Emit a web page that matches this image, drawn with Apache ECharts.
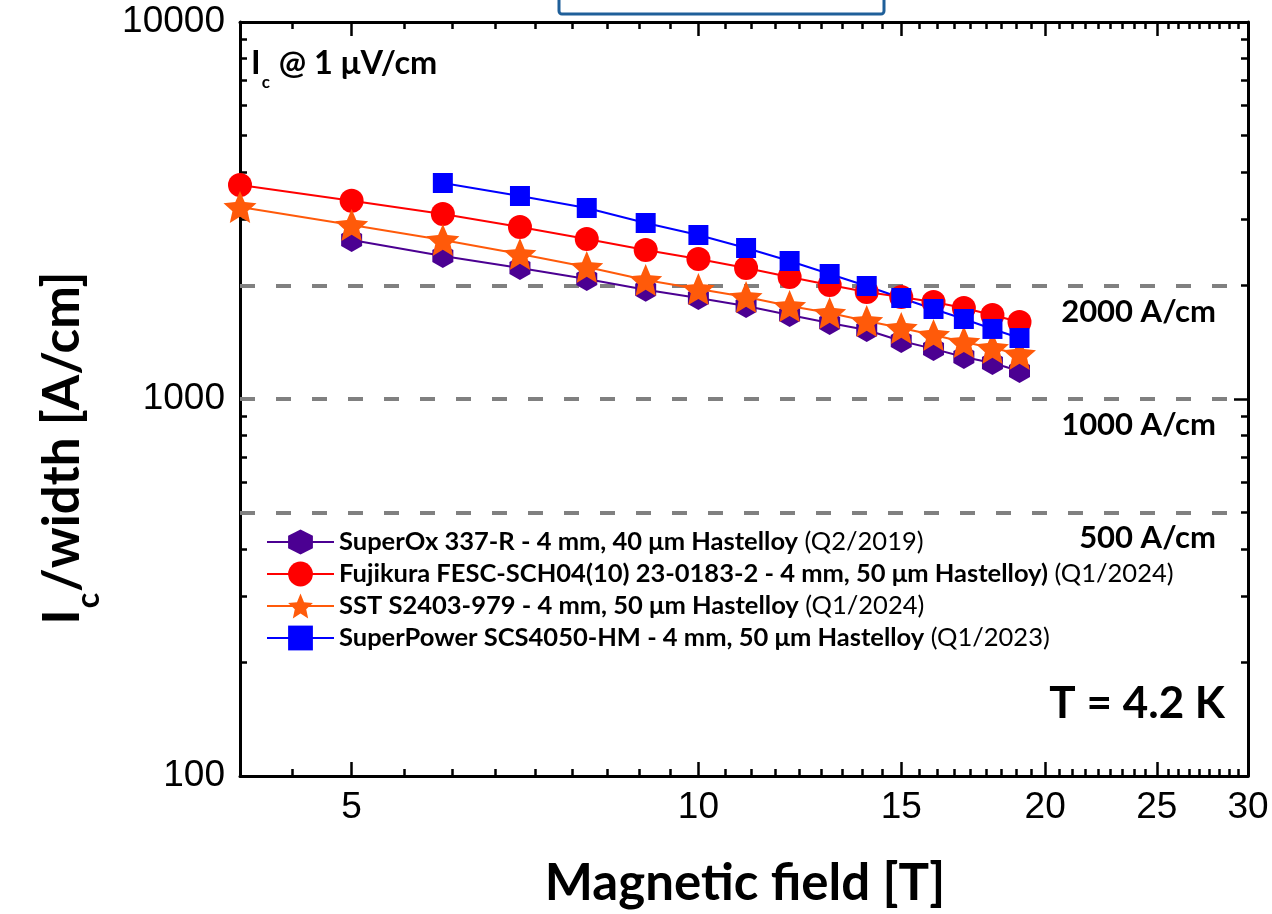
<!DOCTYPE html>
<html><head><meta charset="utf-8">
<script src="https://cdn.jsdelivr.net/npm/echarts@6/dist/echarts.min.js"></script>
<style>html,body{margin:0;padding:0;background:#fff}#c{width:1272px;height:914px}</style>
</head><body><div id="c"></div>
<script>
// ---- data ----
const fields = [4, 5, 6, 7, 8, 9, 10, 11, 12, 13, 14, 15, 16, 17, 18, 19];
const superOx    = [null, 2641, 2395, 2226, 2081, 1950, 1853, 1764, 1670, 1591, 1524, 1425, 1358, 1292, 1246, 1187];
const fujikura   = [3695, 3357, 3095, 2859, 2657, 2484, 2351, 2226, 2107, 2006, 1922, 1864, 1808, 1743, 1670, 1600];
const sst        = [3231, 2894, 2641, 2424, 2239, 2068, 1957, 1864, 1764, 1691, 1610, 1543, 1479, 1416, 1366, 1317];
const superPower = [null, null, 3741, 3455, 3211, 2930, 2723, 2515, 2323, 2146, 1994, 1853, 1733, 1630, 1534, 1451];
const seriesNames = [
  'SuperOx 337-R - 4 mm, 40 μm Hastelloy',
  'Fujikura FESC-SCH04(10) 23-0183-2 - 4 mm, 50 μm Hastelloy)',
  'SST S2403-979 - 4 mm, 50 μm Hastelloy',
  'SuperPower SCS4050-HM - 4 mm, 50 μm Hastelloy'
];
const seriesDates = ['(Q2/2019)', '(Q1/2024)', '(Q1/2024)', '(Q1/2023)'];
const xTickLabels = [5, 10, 15, 20, 25, 30];
const yTickLabels = [100, 1000, 10000];
const refLines = [2000, 1000, 500];
const refLabels = ['2000 A/cm', '1000 A/cm', '500 A/cm'];

// ---- helpers ----
function pairs(vals) {
  const out = [];
  fields.forEach((f, i) => { if (vals[i] != null) out.push([f, vals[i]]); });
  return out;
}
function minorTicks(majors, lo) {
  const out = [];
  for (let i = 0; i < majors.length - 1; i++) {
    const a = majors[i], b = majors[i + 1], st = (b - a) / 9;
    for (let k = 1; k < 9; k++) out.push(a + st * k);
  }
  const st0 = (majors[1] - majors[0]) / 9;
  for (let v = majors[0] - st0; v >= lo; v -= st0) out.push(v);
  return out;
}
const xMinor = minorTicks(xTickLabels, 4);
const yMinor = minorTicks(yTickLabels, 100);

function starPath(inner) {
  let d = '';
  for (let i = 0; i < 10; i++) {
    const a = -Math.PI / 2 + i * Math.PI / 5;
    const r = i % 2 === 0 ? 1 : inner;
    d += (i === 0 ? 'M' : 'L') + (r * Math.cos(a)).toFixed(4) + ',' + (r * Math.sin(a)).toFixed(4);
  }
  return 'path://' + d + 'Z';
}
const hexPath = 'path://M0,-1L0.866,-0.5L0.866,0.5L0,1L-0.866,0.5L-0.866,-0.5Z';

const tickLine = { color: '#000', width: 2.5 };
const labelFont = { fontFamily: 'Liberation Sans', fontSize: 37, color: '#000' };
function mkX(pos, vals, len, showLine, showLabel) {
  return {
    type: 'log', logBase: 10, min: 4, max: 30, position: pos,
    axisLine: { show: showLine, onZero: false, lineStyle: { color: '#000', width: 3 } },
    axisTick: { show: true, inside: true, length: len, customValues: vals, lineStyle: tickLine },
    minorTick: { show: false }, splitLine: { show: false },
    axisLabel: showLabel ? Object.assign({ show: true, customValues: vals, margin: 13,
      formatter: v => String(Math.round(v)) }, labelFont) : { show: false }
  };
}
function mkY(pos, vals, len, showLine, showLabel) {
  return {
    type: 'log', logBase: 10, min: 100, max: 10000, position: pos,
    axisLine: { show: showLine, onZero: false, lineStyle: { color: '#000', width: 3 } },
    axisTick: { show: true, inside: true, length: len, customValues: vals, lineStyle: tickLine },
    minorTick: { show: false }, splitLine: { show: false },
    axisLabel: showLabel ? Object.assign({ show: true, customValues: vals, margin: 15,
      formatter: v => String(Math.round(v)) }, labelFont) : { show: false }
  };
}

const colors = ['#4B0092', '#FF0000', '#FF5A0A', '#0000FF'];
const symbols = [hexPath, 'circle', starPath(0.46), 'rect'];
const symSizes = [[21, 24], 24, [33, 32], 20];
const dataSets = [superOx, fujikura, sst, superPower];

const series = dataSets.map((d, i) => ({
  type: 'line', name: seriesNames[i] + ' ' + seriesDates[i],
  data: pairs(d), xAxisIndex: 0, yAxisIndex: 0,
  symbol: symbols[i], symbolSize: symSizes[i], showAllSymbol: true, clip: false,
  lineStyle: { color: colors[i], width: 2 },
  itemStyle: { color: colors[i], borderWidth: 0 },
  emphasis: { disabled: true },
  animation: false
}));
series[0].markLine = {
  silent: true, z: 1, symbol: ['none', 'none'], animation: false,
  label: { show: false },
  lineStyle: { type: [15, 21], color: '#808080', width: 4 },
  data: refLines.map(v => ({ yAxis: v }))
};

const chart = echarts.init(document.getElementById('c'), null, { renderer: 'canvas', width: 1272, height: 914 });
chart.setOption({
  backgroundColor: '#fff',
  animation: false,
  grid: { left: 240, right: 24, top: 22, bottom: 138, containLabel: false, outerBoundsMode: 'none' },
  xAxis: [
    mkX('bottom', xTickLabels, 14, true, true),
    mkX('bottom', xMinor, 7, false, false),
    mkX('top', xTickLabels, 14, true, false),
    mkX('top', xMinor, 7, false, false)
  ],
  yAxis: [
    mkY('left', yTickLabels, 14, true, true),
    mkY('left', yMinor, 7, false, false),
    mkY('right', yTickLabels, 14, true, false),
    mkY('right', yMinor, 7, false, false)
  ],
  legend: {
    orient: 'vertical', left: 266, top: 529, padding: 0, itemGap: 6,
    itemWidth: 67, itemHeight: 31, selectedMode: false,
    data: series.map(s => s.name),
    formatter: name => {
      const i = series.findIndex(s => s.name === name);
      return '{b|' + seriesNames[i] + '}{n| ' + seriesDates[i] + '}';
    },
    textStyle: {
      color: '#000',
      rich: {
        b: { fontFamily: 'Lato', fontWeight: 'bold', fontSize: 25.5, lineHeight: 32, color: '#000' },
        n: { fontFamily: 'Lato', fontWeight: 'normal', fontSize: 25.5, lineHeight: 32, color: '#000' }
      }
    }
  },
  series: series
});

// annotations
const g = [];
g.push({ type: 'rect', shape: { x: 559, y: -20, width: 325, height: 34, r: 3 },
  style: { fill: 'none', stroke: '#1F5F99', lineWidth: 3 }, z: 10 });
g.push({ type: 'text', x: 251, y: 47.5, z: 10, style: {
  text: '{n|I}{s|c}{n| @ 1 μV/cm}', fill: '#000', align: 'left', verticalAlign: 'top',
  rich: {
    n: { fontFamily: 'Lato', fontWeight: 'bold', fontSize: 32.5, lineHeight: 32, verticalAlign: 'top' },
    s: { fontFamily: 'Lato', fontWeight: 'bold', fontSize: 17, lineHeight: 17, padding: [27, 1, 0, 1], verticalAlign: 'top' }
  } } });
g.push({ type: 'text', x: 1225, y: 704, z: 10, style: {
  text: 'T = 4.2 K', fill: '#000', align: 'right', verticalAlign: 'middle',
  fontFamily: 'Lato', fontWeight: 'bold', fontSize: 44 } });
g.push({ type: 'text', x: 745, y: 884, z: 10, style: {
  text: 'Magnetic field [T]', fill: '#000', align: 'center', verticalAlign: 'middle',
  fontFamily: 'Lato', fontWeight: 'bold', fontSize: 51 } });
g.push({ type: 'text', x: 62.5, y: 448, rotation: Math.PI / 2, z: 10, style: {
  text: '{n|I}{s|c}{n|/width [A/cm]}', fill: '#000', align: 'center', verticalAlign: 'middle',
  rich: {
    n: { fontFamily: 'Lato', fontWeight: 'bold', fontSize: 51, lineHeight: 51, verticalAlign: 'top' },
    s: { fontFamily: 'Lato', fontWeight: 'bold', fontSize: 32, lineHeight: 32, padding: [36, 1, 0, 1], verticalAlign: 'top' }
  } } });
refLines.forEach((v, i) => {
  const py = chart.convertToPixel({ yAxisIndex: 0 }, v);
  g.push({ type: 'text', x: 1216, y: py + 26, z: 10, style: {
    text: refLabels[i], fill: '#000', align: 'right', verticalAlign: 'middle',
    fontFamily: 'Lato', fontWeight: 'bold', fontSize: 31 } });
});
chart.setOption({ graphic: g });
</script>
</body></html>
